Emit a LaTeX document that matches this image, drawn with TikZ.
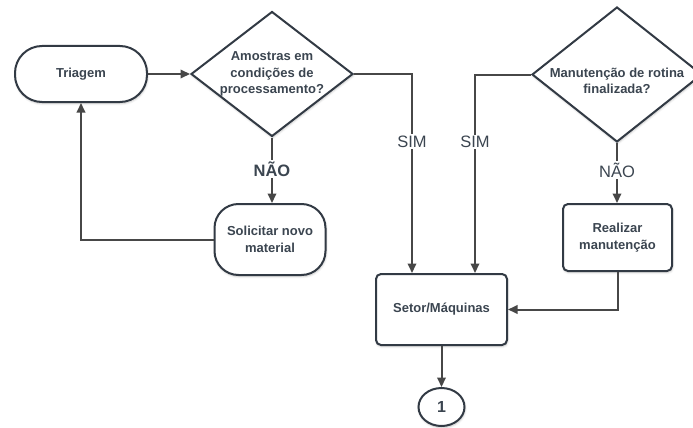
\documentclass[tikz,border=0pt]{standalone}
\usepackage{fontspec}
\setmainfont{Liberation Sans}
\usetikzlibrary{shapes.geometric,arrows.meta,shadows.blur}
\definecolor{txt}{HTML}{3B4550}
\definecolor{edge}{HTML}{323A44}
\definecolor{wire}{HTML}{474747}
\begin{document}
\begin{tikzpicture}[x=1pt,y=-1pt,
  every node/.style={font=\fontsize{13}{16.5}\selectfont\bfseries,text=txt,align=center},
  soft/.style={blur shadow={shadow blur steps=6,shadow xshift=0.6pt,shadow yshift=-1.6pt,shadow opacity=22}},
  pill/.style={draw=edge,line width=2pt,fill=white,rounded corners=27pt,soft},
  box/.style={draw=edge,line width=2pt,fill=white,rounded corners=5pt,soft},
  decision/.style={diamond,draw=edge,line width=2pt,fill=white,inner sep=0pt,soft},
  connector/.style={ellipse,draw=edge,line width=2pt,fill=white,inner sep=0pt,soft,
    font=\fontsize{16}{18}\selectfont\bfseries},
  flow/.style={draw=wire,line width=2pt,-{Triangle[length=9.5pt,width=8.5pt]}},
  ans/.style={font=\fontsize{16.5}{19}\selectfont,fill=white,inner sep=1.5pt},
  ansbold/.style={ans,font=\fontsize{16.5}{19}\selectfont\bfseries}]

\useasboundingbox (0,0) rectangle (693,428);
\clip (0,0) rectangle (693,428);

% process shapes
\node[pill,minimum width=132pt,minimum height=56pt] (tri) at (81,74) {Triagem};
\node[decision,minimum width=162pt,minimum height=125pt] (d1) at (272,74) {};
\node (d1t) at (272,74) {Amostras em\\condições de\\processamento?};
\node[pill,rounded corners=24pt,minimum width=111pt,minimum height=71pt] (sol) at (270,239.5) {Solicitar novo\\material};

\node[decision,minimum width=170pt,minimum height=135pt] (d2) at (617,74.5) {};
\node (d2t) at (617,81) {Manutenção de rotina\\finalizada?};
\node[box,minimum width=109pt,minimum height=67pt] (real) at (617.5,237.5) {Realizar\\manutenção};
\node[box,minimum width=131pt,minimum height=71pt] (setor) at (441.5,309.5) {Setor/Máquinas};
\node[connector,minimum width=46pt,minimum height=38pt] (one) at (441.5,407) {1};

% connectors
\draw[flow] (tri) -- (d1);
\draw[flow] (d1.south) -- node[ansbold,pos=0.48] {NÃO} (d1.south |- sol.north);
\draw[flow] (sol.west) -| (tri.south);
\draw[flow] (d1.east) -| node[ans,pos=0.67] {SIM} ([xshift=-29.5pt]setor.north);
\draw[flow] (d2.west) -| node[ans,pos=0.67] {SIM} ([xshift=33.5pt]setor.north);
\draw[flow] (d2.south) -- node[ans,pos=0.45] {NÃO} (d2.south |- real.north);
\draw[flow] (real.south) |- (setor.east);
\draw[flow] (setor.south) -- (one.north);
\end{tikzpicture}
\end{document}
